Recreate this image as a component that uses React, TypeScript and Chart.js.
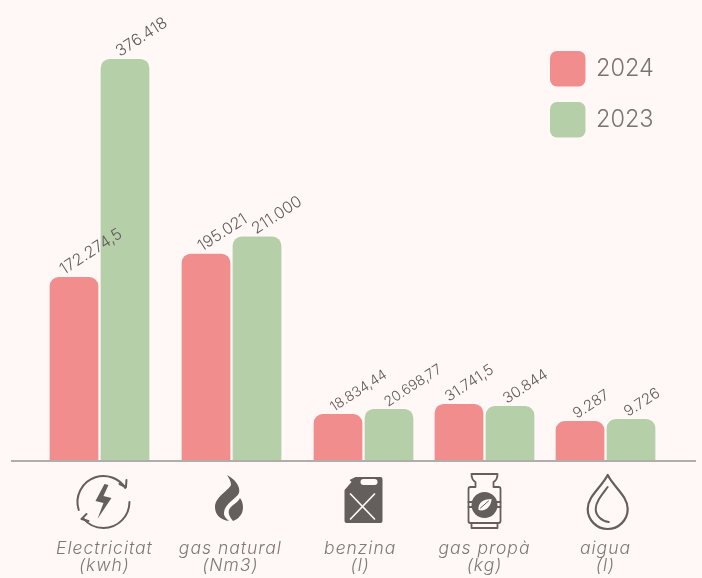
import React, { useEffect, useRef } from "react";
import { Chart, registerables } from "chart.js";

Chart.register(...registerables);

const seriesNames = ["2024", "2023"];
const categoryLines = [
  ["Electricitat", "(kwh)"],
  ["gas natural", "(Nm3)"],
  ["benzina", "(l)"],
  ["gas propà", "(kg)"],
  ["aigua", "(l)"],
];
// Printed figures
const printed2024 = ["172.274,5", "195.021", "18.834,44", "31.741,5", "9.287"];
const printed2023 = ["376.418", "211.000", "20.698,77", "30.844", "9.726"];
// Bar heights, in the units of the two big groups
// (the small groups are drawn taller than their printed figure in the original)
const bars2024 = [172274.5, 194100, 44000, 53400, 37450];
const bars2023 = [376418, 210100, 48700, 51500, 39300];

// Irregular group spacing of the original, in slots along a linear axis
const groupSlots = [0, 12, 24, 35, 46];
const labelSlots = [0.45, 11.9, 23.7, 35, 46];
const iconSlots = [0.36, 11.77, 24, 35, 46.2];

const BG = "#fff8f6";
const RED = "#f28d8d";
const GREEN = "#b5cfa8";
const TEXT = "#5f5c5a";
const ICON = "#645f5c";
const FONT = "Inter, 'Open Sans', sans-serif";

const labelSizes = [[16, 16, 14, 15, 15], [16, 16, 14, 15, 15]];
const labelShift = [[-10, -4, -4, -10, -3], [-5, -1, -1, -3, -3]];

function drawIcon(ctx: CanvasRenderingContext2D, kind: number) {
  ctx.fillStyle = ICON;
  ctx.strokeStyle = ICON;
  ctx.lineWidth = 2;
  ctx.lineCap = "round";
  ctx.lineJoin = "round";
  if (kind === 0) {
    const r = 26;
    ctx.beginPath();
    ctx.arc(0, 0, r, (162 * Math.PI) / 180, (-33 * Math.PI) / 180);
    ctx.stroke();
    ctx.beginPath();
    ctx.arc(0, 0, r, 0, (142 * Math.PI) / 180);
    ctx.stroke();
    ctx.stroke(new Path2D("M16 -18 L22.5 -15 L23 -22"));
    ctx.stroke(new Path2D("M-17 12 L-22 17 L-15 19"));
    ctx.fill(new Path2D("M1 -18 L-8 -1 L0 1 L-6 17 L8 -4 L0 -6 L5 -17 Z"));
  } else if (kind === 1) {
    ctx.fill(new Path2D("M-2 -27 C6 -23 12 -15 10 -9 C8 -4 -5 2 -5 11 C-5 15 -2 17 0 19 C-8 18 -14 13 -14 5 C-14 -5 -1 -11 2 -17 C2 -21 0 -24 -2 -27 Z"));
    ctx.fill(new Path2D("M11 -4 C15 1 15 10 11 14 C9 17 6 18 4 19 C1 15 -1 12 0 8 C2 3 9 1 11 -4 Z"));
  } else if (kind === 2) {
    ctx.fill(new Path2D("M-8 -25 L17 -25 Q19 -25 19 -23 L19 19 Q19 21 17 21 L-17 21 Q-19 21 -19 19 L-19 -12 L-12 -20 L-14 -22 Z"));
    ctx.fillStyle = BG;
    ctx.beginPath();
    ctx.roundRect(-3, -23, 17, 6, 3);
    ctx.fill();
    ctx.strokeStyle = BG;
    ctx.lineWidth = 1.7;
    ctx.stroke(new Path2D("M-13 -8 L11 17 M11 -8 L-13 17"));
  } else if (kind === 3) {
    ctx.lineWidth = 1.8;
    ctx.stroke(new Path2D("M-13 -28 L13 -28 Q13 -22 9 -20 L9 -15 L14 -15 Q16 -15 16 -13 L16 19 Q16 21 14 21 L-14 21 Q-16 21 -16 19 L-16 -13 Q-16 -15 -14 -15 L-9 -15 L-9 -20 Q-13 -22 -13 -28 Z"));
    ctx.stroke(new Path2D("M-13 21 L-13 26 L13 26 L13 21"));
    ctx.stroke(new Path2D("M-16 0 L-12 0 M-16 5 L-12 5 M16 0 L12 0 M16 5 L12 5"));
    ctx.beginPath();
    ctx.arc(0, 3, 13, 0, Math.PI * 2);
    ctx.fill();
    ctx.fillStyle = BG;
    ctx.fill(new Path2D("M-6 8 C-7 0 0 -3 7 -3 C7 4 1 10 -6 8 Z"));
    ctx.strokeStyle = ICON;
    ctx.lineWidth = 1;
    ctx.stroke(new Path2D("M-4 6 L4 -1"));
  } else {
    ctx.lineWidth = 2.2;
    ctx.stroke(new Path2D("M0 -27 C6 -15 20 -6 20 7 A20 20 0 0 1 -20 7 C-20 -6 -6 -15 0 -27 Z"));
    ctx.lineWidth = 2;
    ctx.stroke(new Path2D("M0 -15 C-6 -7 -12 0 -12 7 C-12 14 -6 19 1 20"));
  }
}

const overlay = {
  id: "overlay",
  beforeDraw(chart: any) {
    chart.ctx.letterSpacing = "1px";
  },
  afterDatasetsDraw(chart: any) {
    const { ctx, scales } = chart;
    // value labels
    chart.data.datasets.forEach((ds: any, d: number) => {
      const printed = d === 0 ? printed2024 : printed2023;
      chart.getDatasetMeta(d).data.forEach((bar: any, i: number) => {
        ctx.save();
        ctx.translate(bar.x + labelShift[d][i], bar.y - 2);
        ctx.rotate((-33 * Math.PI) / 180);
        ctx.letterSpacing = "0px";
        ctx.font = `300 ${labelSizes[d][i]}px ${FONT}`;
        ctx.fillStyle = TEXT;
        ctx.textAlign = "left";
        ctx.textBaseline = "alphabetic";
        ctx.fillText(printed[i], 0, 0);
        ctx.restore();
      });
    });
    // legend
    chart.data.datasets.forEach((ds: any, d: number) => {
      const top = d === 0 ? 51 : 102;
      ctx.save();
      ctx.fillStyle = ds.backgroundColor;
      ctx.beginPath();
      ctx.roundRect(550, top, 35.5, 35.5, 7);
      ctx.fill();
      ctx.letterSpacing = "0px";
      ctx.font = `300 23.5px ${FONT}`;
      ctx.fillStyle = "#777472";
      ctx.textBaseline = "middle";
      ctx.textAlign = "left";
      ctx.fillText(seriesNames[d], 596, top + 18);
      ctx.restore();
    });
    // category icons
    iconSlots.forEach((slot, i) => {
      ctx.save();
      ctx.translate(scales.x.getPixelForValue(slot), 502);
      drawIcon(ctx, i);
      ctx.restore();
    });
  },
};

export default function App() {
  const ref = useRef<HTMLCanvasElement>(null);
  useEffect(() => {
    document.body.style.margin = "0";
    document.body.style.background = BG;
    const chart = new Chart(ref.current!, {
      type: "bar",
      data: {
        datasets: [
          {
            label: seriesNames[0],
            data: bars2024.map((y, i) => ({ x: groupSlots[i], y })),
            backgroundColor: RED,
            borderRadius: 9,
            categoryPercentage: 0.843,
            barPercentage: 0.955,
          },
          {
            label: seriesNames[1],
            data: bars2023.map((y, i) => ({ x: groupSlots[i], y })),
            backgroundColor: GREEN,
            borderRadius: 9,
            categoryPercentage: 0.843,
            barPercentage: 0.955,
          },
        ],
      } as any,
      options: {
        responsive: false,
        animation: false,
        layout: { padding: { left: 12, right: 7, top: 0, bottom: 0 } },
        plugins: { legend: { display: false }, tooltip: { enabled: false }, title: { display: false } },
        scales: {
          x: {
            type: "linear",
            offset: false,
            min: -7.955,
            max: 54.136,
            grid: { display: false },
            border: { display: true, color: "#b0aeac", width: 2, z: 1 },
            afterBuildTicks: (s: any) => {
              s.ticks = labelSlots.map((value) => ({ value }));
            },
            afterFit: (s: any) => {
              s.height = 117;
              s.paddingLeft = 0;
              s.paddingRight = 0;
            },
            ticks: {
              autoSkip: false,
              maxRotation: 0,
              minRotation: 0,
              padding: 71,
              color: "#7c7977",
              font: { family: FONT, size: 17.5, style: "italic", weight: "300", lineHeight: 0.97 },
              callback: (_v: any, i: number) => categoryLines[i],
            },
          },
          y: { display: false, min: 0, max: 431650 },
        },
      } as any,
      plugins: [overlay],
    });
    return () => chart.destroy();
  }, []);
  return (
    <canvas
      ref={ref}
      width={702}
      height={578}
      style={{ display: "block", position: "absolute", left: 0, top: 0, width: 702, height: 578, background: BG }}
    />
  );
}
